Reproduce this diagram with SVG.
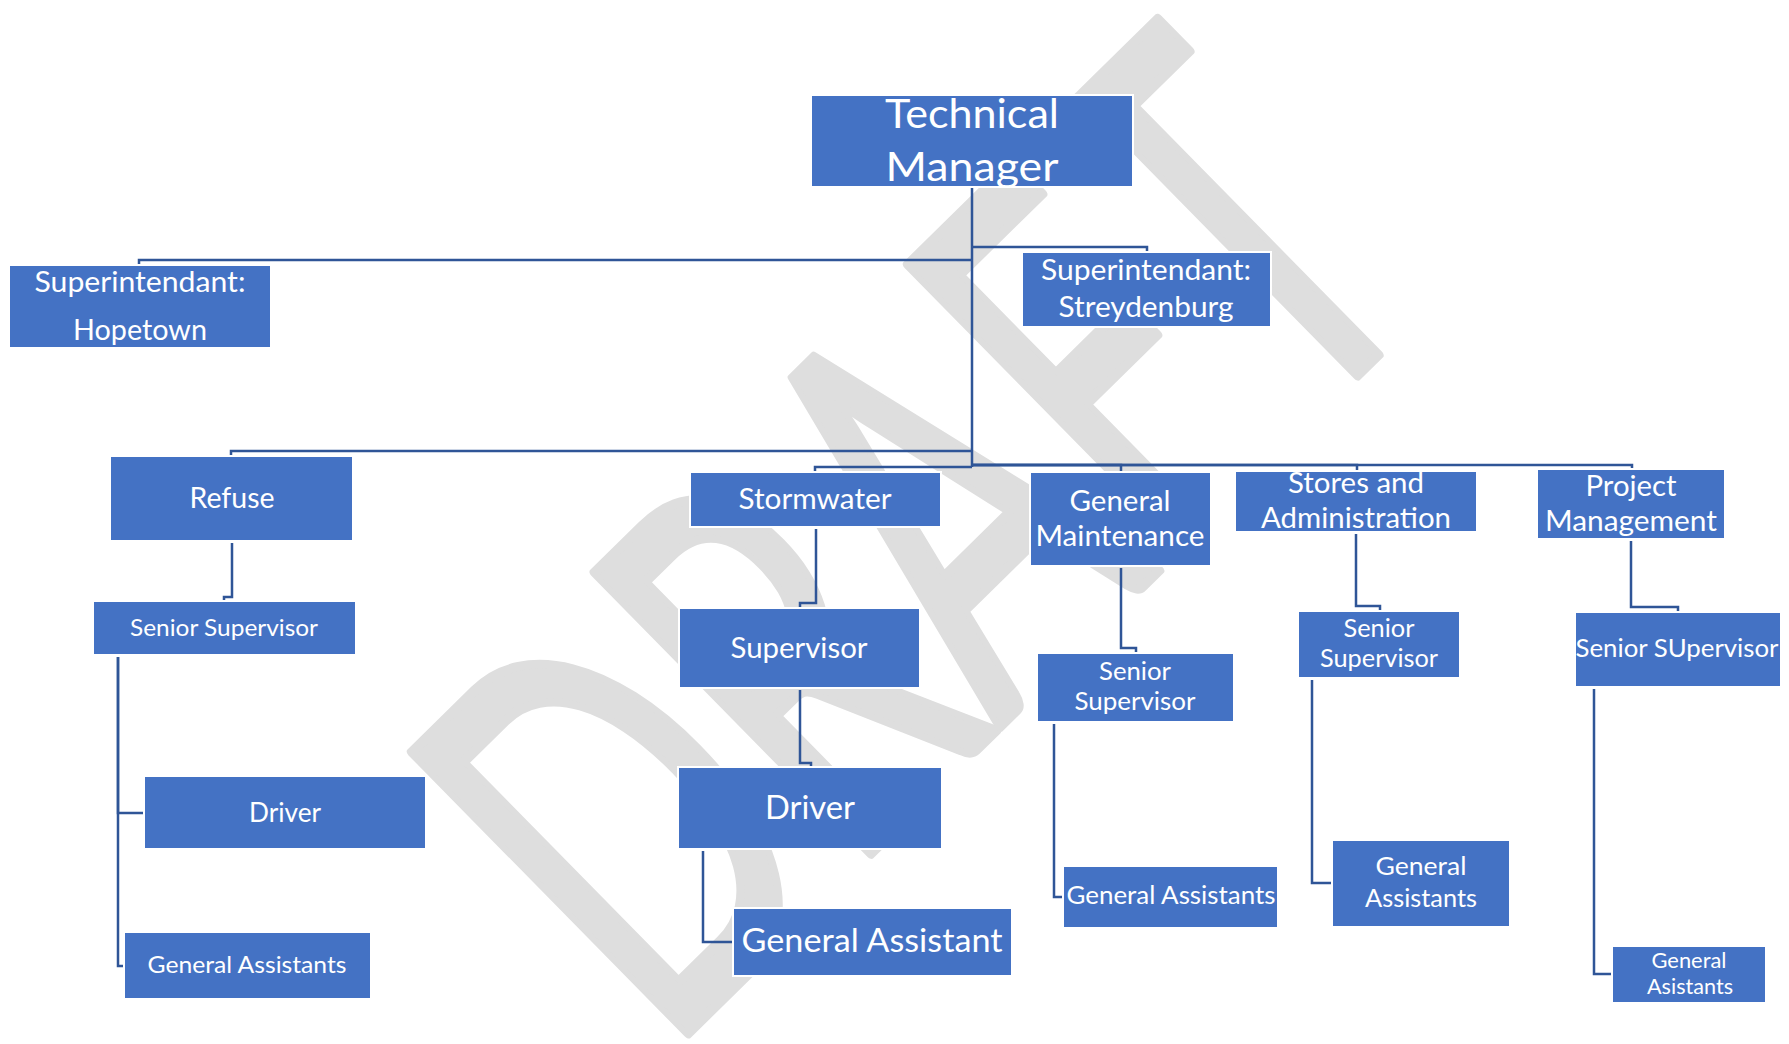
<svg xmlns="http://www.w3.org/2000/svg" width="1789" height="1044" viewBox="0 0 1789 1044">
<style>
.box{fill:#4472C4;stroke:#FFFFFF;stroke-width:2}
.t{fill:#FFFFFF;font-family:Lato,"Open Sans","Liberation Sans",sans-serif;text-anchor:middle}
.c{fill:none;stroke:#2F5597;stroke-width:2.5}
.wm{fill:#DEDEDE;stroke:#DEDEDE;stroke-width:10;stroke-linejoin:round;font-family:Lato,"Open Sans","Liberation Sans",sans-serif}
</style>
<rect width="1789" height="1044" fill="#FFFFFF"/>
<g id="watermark">
<text class="wm" transform="translate(665,1056) rotate(-44.5)" font-size="550" textLength="1085" lengthAdjust="spacingAndGlyphs">DRAFT</text>
</g>
<g id="connectors">
<path class="c" d="M972,187 V467" stroke-width="3"/>
<path class="c" d="M972,260 H139 V265"/>
<path class="c" d="M972,247 H1147 V252"/>
<path class="c" d="M972,451 H231 V456"/>
<path class="c" d="M972,467 H815 V472"/>
<path class="c" d="M972,465 H1121 V472" stroke-width="3"/>
<path class="c" d="M972,465 H1357 V471" stroke-width="3"/>
<path class="c" d="M972,465 H1632 V469" stroke-width="3"/>
<path class="c" d="M232,543 V597 H224 V601"/>
<path class="c" d="M118,657 V813 H144"/>
<path class="c" d="M118,657 V966 H124"/>
<path class="c" d="M816,529 V603 H800 V608"/>
<path class="c" d="M800,690 V763 H811 V767"/>
<path class="c" d="M703,851 V942 H733"/>
<path class="c" d="M1121,568 V648 H1136 V653"/>
<path class="c" d="M1054,724 V897 H1063"/>
<path class="c" d="M1356,534 V606 H1380 V611"/>
<path class="c" d="M1312,680 V883 H1332"/>
<path class="c" d="M1631,541 V607 H1678 V612"/>
<path class="c" d="M1594,689 V974 H1612"/>
</g>
<g id="technical-manager">
<rect class="box" x="811" y="95" width="322" height="92"/>
<text class="t" x="972" y="128" font-size="41.5" textLength="174" lengthAdjust="spacingAndGlyphs">Technical</text>
<text class="t" x="972" y="181" font-size="41.5" textLength="173" lengthAdjust="spacingAndGlyphs">Manager</text>
</g>
<g id="superintendant-hopetown">
<rect class="box" x="9" y="265" width="262" height="83"/>
<text class="t" x="140" y="292" font-size="29" textLength="211" lengthAdjust="spacingAndGlyphs">Superintendant:</text>
<text class="t" x="140" y="340" font-size="29" textLength="134" lengthAdjust="spacingAndGlyphs">Hopetown</text>
</g>
<g id="superintendant-streydenburg">
<rect class="box" x="1022" y="252" width="249" height="75"/>
<text class="t" x="1146" y="280" font-size="29" textLength="210" lengthAdjust="spacingAndGlyphs">Superintendant:</text>
<text class="t" x="1146" y="317" font-size="29" textLength="175" lengthAdjust="spacingAndGlyphs">Streydenburg</text>
</g>
<g id="refuse">
<rect class="box" x="110" y="456" width="243" height="85"/>
<text class="t" x="232" y="508" font-size="28" textLength="85" lengthAdjust="spacingAndGlyphs">Refuse</text>
</g>
<g id="refuse-senior-supervisor">
<rect class="box" x="93" y="601" width="263" height="54"/>
<text class="t" x="224" y="636" font-size="24" textLength="188" lengthAdjust="spacingAndGlyphs">Senior Supervisor</text>
</g>
<g id="refuse-driver">
<rect class="box" x="144" y="776" width="282" height="73"/>
<text class="t" x="285" y="822" font-size="26" textLength="72" lengthAdjust="spacingAndGlyphs">Driver</text>
</g>
<g id="refuse-general-assistants">
<rect class="box" x="124" y="932" width="247" height="67"/>
<text class="t" x="247" y="973" font-size="24" textLength="199" lengthAdjust="spacingAndGlyphs">General Assistants</text>
</g>
<g id="stormwater">
<rect class="box" x="690" y="472" width="251" height="55"/>
<text class="t" x="815" y="509" font-size="28.5" textLength="153" lengthAdjust="spacingAndGlyphs">Stormwater</text>
</g>
<g id="stormwater-supervisor">
<rect class="box" x="679" y="608" width="241" height="80"/>
<text class="t" x="799" y="658" font-size="28.7" textLength="137" lengthAdjust="spacingAndGlyphs">Supervisor</text>
</g>
<g id="stormwater-driver">
<rect class="box" x="678" y="767" width="264" height="82"/>
<text class="t" x="810" y="819" font-size="32.4" textLength="90" lengthAdjust="spacingAndGlyphs">Driver</text>
</g>
<g id="stormwater-general-assistant">
<rect class="box" x="733" y="908" width="279" height="68"/>
<text class="t" x="872" y="952" font-size="33.3" textLength="261" lengthAdjust="spacingAndGlyphs">General Assistant</text>
</g>
<g id="general-maintenance">
<rect class="box" x="1030" y="472" width="181" height="94"/>
<text class="t" x="1120" y="511" font-size="28.3" textLength="101" lengthAdjust="spacingAndGlyphs">General</text>
<text class="t" x="1120" y="546" font-size="28.3" textLength="169" lengthAdjust="spacingAndGlyphs">Maintenance</text>
</g>
<g id="gm-senior-supervisor">
<rect class="box" x="1037" y="653" width="197" height="69"/>
<text class="t" x="1135" y="680" font-size="25" textLength="72" lengthAdjust="spacingAndGlyphs">Senior</text>
<text class="t" x="1135" y="710" font-size="25" textLength="121" lengthAdjust="spacingAndGlyphs">Supervisor</text>
</g>
<g id="gm-general-assistants">
<rect class="box" x="1063" y="866" width="215" height="62"/>
<text class="t" x="1171" y="904" font-size="25" textLength="209" lengthAdjust="spacingAndGlyphs">General Assistants</text>
</g>
<g id="stores-administration">
<rect class="box" x="1235" y="471" width="242" height="61"/>
<text class="t" x="1356" y="493" font-size="28.3" textLength="136" lengthAdjust="spacingAndGlyphs">Stores and</text>
<text class="t" x="1356" y="528" font-size="28.3" textLength="190" lengthAdjust="spacingAndGlyphs">Administration</text>
</g>
<g id="sa-senior-supervisor">
<rect class="box" x="1298" y="611" width="162" height="67"/>
<text class="t" x="1379" y="637" font-size="24.8" textLength="71" lengthAdjust="spacingAndGlyphs">Senior</text>
<text class="t" x="1379" y="667" font-size="24.8" textLength="118" lengthAdjust="spacingAndGlyphs">Supervisor</text>
</g>
<g id="sa-general-assistants">
<rect class="box" x="1332" y="840" width="178" height="87"/>
<text class="t" x="1421" y="875" font-size="25" textLength="91" lengthAdjust="spacingAndGlyphs">General</text>
<text class="t" x="1421" y="907" font-size="25" textLength="112" lengthAdjust="spacingAndGlyphs">Assistants</text>
</g>
<g id="project-management">
<rect class="box" x="1537" y="469" width="188" height="70"/>
<text class="t" x="1631" y="496" font-size="28.3" textLength="91" lengthAdjust="spacingAndGlyphs">Project</text>
<text class="t" x="1631" y="531" font-size="28.3" textLength="172" lengthAdjust="spacingAndGlyphs">Management</text>
</g>
<g id="pm-senior-supervisor">
<rect class="box" x="1575" y="612" width="206" height="75"/>
<text class="t" x="1677" y="657" font-size="25" textLength="203" lengthAdjust="spacingAndGlyphs">Senior SUpervisor</text>
</g>
<g id="pm-general-assistants">
<rect class="box" x="1612" y="946" width="154" height="57"/>
<text class="t" x="1689" y="968" font-size="21" textLength="75" lengthAdjust="spacingAndGlyphs">General</text>
<text class="t" x="1690" y="994" font-size="21" textLength="86" lengthAdjust="spacingAndGlyphs">Asistants</text>
</g>
</svg>
